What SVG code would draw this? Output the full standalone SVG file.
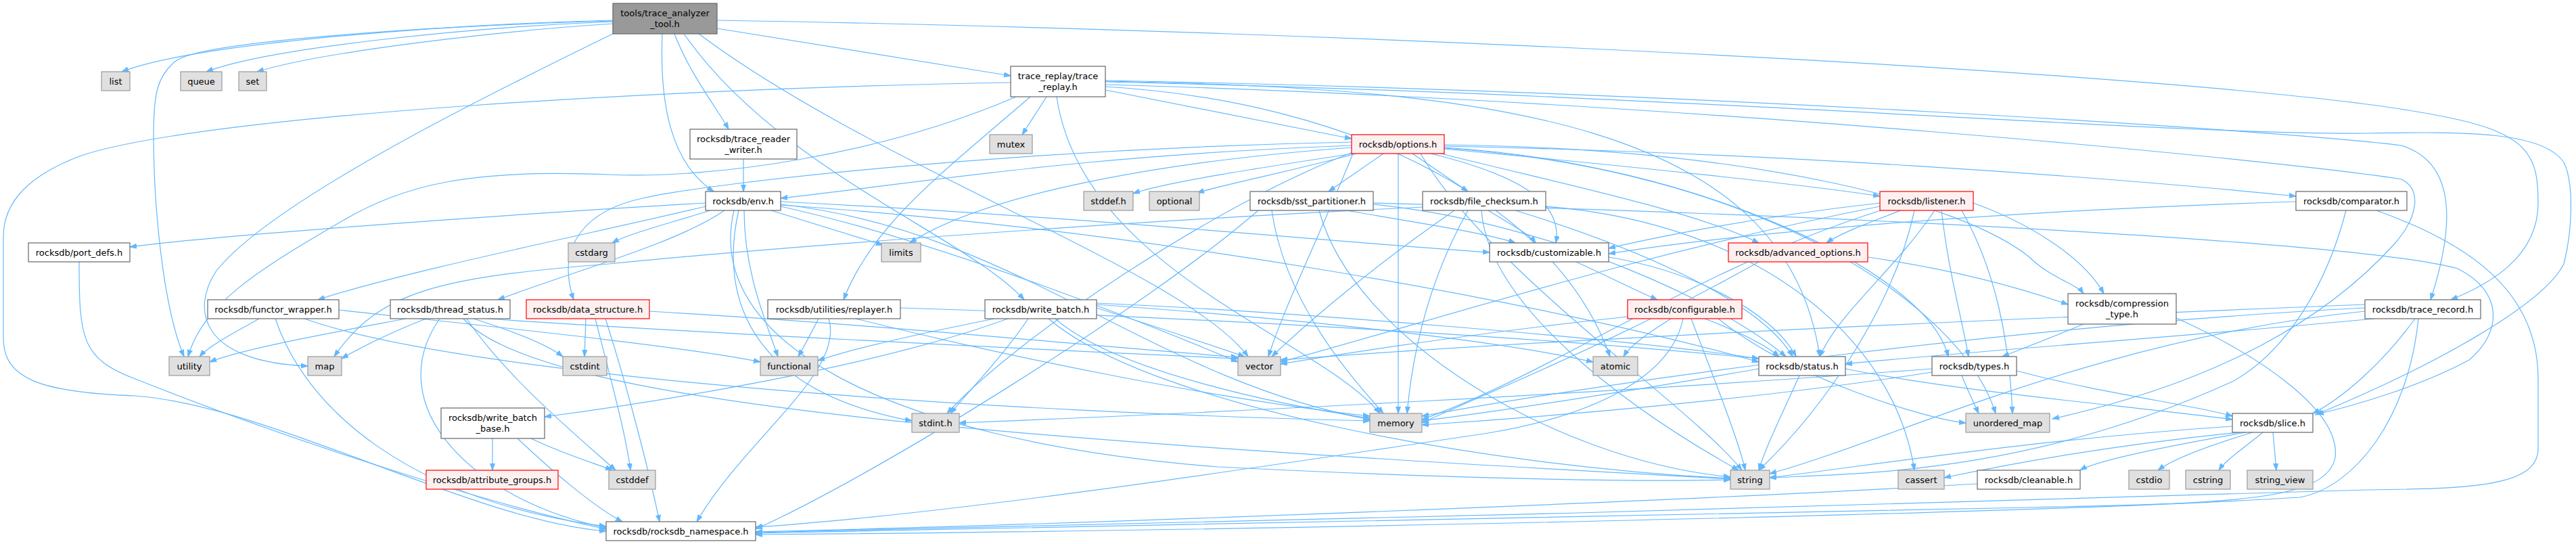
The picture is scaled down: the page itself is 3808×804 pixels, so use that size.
<svg xmlns="http://www.w3.org/2000/svg" width="3808" height="804" viewBox="0 0 3808 804">
<style>
.nd rect{stroke-width:1.2}
.w rect{fill:#ffffff;stroke:#666666}
.g rect{fill:#e0e0e0;stroke:#999999}
.r rect{fill:#fff0f0;stroke:#ff0000}
.root rect{fill:#999999;stroke:#666666}
text{font-family:"DejaVu Sans","Liberation Sans",sans-serif;font-size:13px;text-anchor:middle;fill:#000}
#edges path{fill:none;stroke:#63b8ff;stroke-width:1.2;marker-end:url(#a)}
</style>
<defs>
<marker id="a" markerUnits="userSpaceOnUse" markerWidth="12" markerHeight="10" refX="10" refY="4" orient="auto"><path d="M0,0.5 L10,4 L0,7.5 z" fill="#63b8ff" stroke="#63b8ff" stroke-width="1"/></marker>
</defs>
<rect x="0" y="0" width="3808" height="804" fill="#ffffff"/>
<g id="edges">
<path d="M906,30 C700,35 300,60 180,106"/>
<path d="M906,32 C700,40 400,70 305,106"/>
<path d="M906,35 C750,45 480,75 380,106"/>
<path d="M906,31 C650,38 300,60 260,90 C232,112 227,140 227,200 C227,300 240,450 272,527"/>
<path d="M910,48 C700,150 400,300 320,400 C280,460 300,535 455,541"/>
<path d="M979,50 C975,150 990,240 1055,283"/>
<path d="M997,50 C1020,110 1060,160 1077,191"/>
<path d="M1011,50 C1150,250 1430,350 1514,443"/>
<path d="M1033,50 C1300,250 1750,400 1845,527"/>
<path d="M1060,42 L1494,112"/>
<path d="M1060,30 C2000,45 3300,110 3600,170 C3740,195 3752,230 3752,300 C3752,380 3680,420 3623,443"/>
<path d="M1494,122 C1000,130 300,170 120,230 C40,260 5,300 5,350 L5,500 C5,560 60,580 200,585 C400,600 700,770 896,785"/>
<path d="M1502,143 C1300,230 1050,265 900,258 C700,250 600,270 500,330 C380,400 300,450 278,527"/>
<path d="M1547,143 L1511,199"/>
<path d="M1634,133 C1800,165 1900,185 1998,205"/>
<path d="M1634,120 C2200,130 2640,180 2690,527"/>
<path d="M1634,119 C2500,135 3400,195 3550,215 C3630,240 3630,330 3593,443"/>
<path d="M1634,121 C2500,140 3200,200 3500,197 C3650,194 3760,195 3790,240 C3805,270 3803,340 3790,390 C3760,450 3600,540 3423,613"/>
<path d="M1523,143 C1400,250 1290,330 1247,443"/>
<path d="M1562,143 C1600,400 1950,500 2040,611"/>
<path d="M1634,125 C2500,150 3400,240 3550,265 C3580,280 3575,320 3540,360 C3450,460 3300,560 3034,619"/>
<path d="M1634,128 C2000,150 2300,300 2380,527"/>
<path d="M1099,235 L1099,283"/>
<path d="M1043,300 C700,320 300,350 192,365"/>
<path d="M1043,305 C900,340 600,400 470,443"/>
<path d="M1050,311 C990,330 930,345 905,359"/>
<path d="M1071,311 C1000,360 850,400 736,443"/>
<path d="M1140,311 L1305,362"/>
<path d="M1100,311 C1100,400 1130,470 1150,527"/>
<path d="M1092,311 C1060,450 1120,580 1348,622"/>
<path d="M1154,302 C1500,340 1700,560 2025,620"/>
<path d="M1085,311 C1040,500 1300,650 1800,690 C2200,710 2450,712 2558,709"/>
<path d="M1154,305 C1400,360 1700,480 1830,535"/>
<path d="M1154,298 C1600,320 2000,360 2202,373"/>
<path d="M1154,303 C1700,340 2300,450 2600,535"/>
<path d="M1998,215 C1600,230 1400,265 1154,293"/>
<path d="M1998,210 C1500,220 1050,270 950,293 C870,310 820,360 848,443"/>
<path d="M1998,218 C1700,240 1450,290 1345,359"/>
<path d="M2000,227 C1850,250 1720,270 1675,286"/>
<path d="M2005,227 C1900,255 1800,275 1770,285"/>
<path d="M2045,227 L1964,283"/>
<path d="M2088,227 L2170,283"/>
<path d="M2067,227 L2067,611"/>
<path d="M2115,227 C2250,260 2310,300 2300,359"/>
<path d="M2130,227 C2300,270 2500,310 2600,359"/>
<path d="M2135,220 C2400,245 2650,270 2779,290"/>
<path d="M2135,216 C2600,225 3100,260 3394,290"/>
<path d="M2135,214 C2600,220 2900,300 3000,380 C3030,410 3070,420 3080,434"/>
<path d="M2135,218 C2500,240 2850,400 2880,527"/>
<path d="M2135,219 C2600,250 2900,450 2950,611"/>
<path d="M2000,227 C1950,350 1900,450 1875,527"/>
<path d="M2100,227 C2200,400 2500,600 2575,695"/>
<path d="M2000,225 C1800,300 1500,500 1400,611"/>
<path d="M1990,311 C2100,330 2200,345 2240,359"/>
<path d="M1880,311 C1900,450 2000,560 2045,611"/>
<path d="M1950,311 C2000,500 2300,680 2558,705"/>
<path d="M2030,300 C2800,320 3500,360 3633,397 C3700,430 3700,490 3650,532 C3580,570 3480,600 3425,612"/>
<path d="M2030,302 C2300,330 2550,450 2640,527"/>
<path d="M1860,311 C1700,450 1300,700 1117,782"/>
<path d="M2103,306 C1600,330 1100,370 900,390 C650,410 560,430 494,527"/>
<path d="M2200,311 C2230,330 2260,345 2270,359"/>
<path d="M2170,311 C2120,400 2090,500 2080,611"/>
<path d="M2190,311 C2200,450 2400,600 2570,695"/>
<path d="M2150,311 C2050,380 1950,460 1880,527"/>
<path d="M2240,311 C2400,360 2600,440 2650,527"/>
<path d="M2285,305 C2600,330 2800,500 2830,695"/>
<path d="M2779,300 C2600,320 2450,350 2378,367"/>
<path d="M2810,311 C2760,330 2720,345 2700,359"/>
<path d="M2780,311 C2500,400 2300,550 2102,620"/>
<path d="M2830,311 C2800,450 2700,600 2600,695"/>
<path d="M2900,311 C2950,400 2970,500 2975,611"/>
<path d="M2779,305 C2400,380 2100,480 1893,535"/>
<path d="M2917,300 C3000,330 3080,380 3110,434"/>
<path d="M2860,311 C2800,400 2720,460 2690,527"/>
<path d="M2870,311 C2880,400 2900,470 2910,527"/>
<path d="M3394,298 C3000,310 2600,340 2378,375"/>
<path d="M3468,311 C3440,420 3380,520 3300,564 C3000,700 2750,700 2616,706"/>
<path d="M3513,311 C3650,360 3752,430 3752,560 L3752,663 C3752,720 3650,722 3500,724 C3000,740 1600,780 1117,787"/>
<path d="M2330,387 C2380,410 2420,430 2450,443"/>
<path d="M2378,380 C2500,400 2620,460 2655,527"/>
<path d="M2761,380 C2900,400 3000,430 3057,450"/>
<path d="M2600,387 C2400,500 2200,580 2102,625"/>
<path d="M2470,471 C2440,490 2410,510 2400,527"/>
<path d="M2406,468 C2200,490 2000,520 1893,538"/>
<path d="M2500,471 C2530,550 2570,650 2580,695"/>
<path d="M2520,471 C2570,490 2610,510 2630,527"/>
<path d="M2540,471 C2650,560 2850,620 2906,625"/>
<path d="M2488,471 C2470,560 2350,615 2200,640 C1800,700 1400,760 1117,779"/>
<path d="M2600,545 C2400,580 2200,610 2102,622"/>
<path d="M2660,555 C2640,600 2610,660 2600,695"/>
<path d="M2728,545 C2900,580 3150,600 3300,620"/>
<path d="M2900,555 C2910,580 2920,600 2925,611"/>
<path d="M2981,548 C3100,580 3250,600 3300,615"/>
<path d="M2856,545 C2400,580 1800,610 1418,625"/>
<path d="M2856,550 C2600,590 2300,615 2102,628"/>
<path d="M3080,479 C3030,500 2990,515 2960,527"/>
<path d="M3217,470 C3350,530 3460,610 3452,676 C3440,740 3300,744 3000,750 C2000,770 1400,785 1117,788"/>
<path d="M3496,455 C3000,480 2400,560 2102,615"/>
<path d="M3496,460 C3100,500 2800,650 2616,700"/>
<path d="M3496,450 C3000,470 2300,500 1893,532"/>
<path d="M3510,471 C3200,500 2900,520 2728,538"/>
<path d="M3570,471 C3520,540 3460,590 3419,611"/>
<path d="M3575,471 C3560,620 3480,720 3400,735 C3000,760 1800,785 1117,790"/>
<path d="M3310,639 C3100,660 2950,690 2874,706"/>
<path d="M3320,639 C3200,660 3100,680 3075,695"/>
<path d="M3330,639 C3260,660 3210,680 3190,695"/>
<path d="M3345,639 C3320,660 3290,680 3280,695"/>
<path d="M3360,639 L3365,695"/>
<path d="M3300,630 C3000,650 2750,690 2616,706"/>
<path d="M2923,715 C2500,740 1600,775 1117,786"/>
<path d="M1470,471 C1350,495 1260,515 1209,533"/>
<path d="M1490,471 C1300,540 1000,590 805,616"/>
<path d="M1520,471 C1480,530 1430,580 1405,611"/>
<path d="M1621,450 C1900,470 2200,500 2355,535"/>
<path d="M1560,471 C1650,550 1900,600 2025,618"/>
<path d="M1550,471 C1700,600 2200,690 2558,707"/>
<path d="M1621,455 C1700,480 1790,510 1840,527"/>
<path d="M1621,448 C1900,460 2400,500 2600,530"/>
<path d="M1210,471 C1200,490 1190,510 1180,527"/>
<path d="M1225,471 C1250,550 1100,650 1030,771"/>
<path d="M1265,471 C1500,530 1800,590 2025,615"/>
<path d="M1331,455 C1800,470 2300,500 2600,530"/>
<path d="M383,471 C350,490 310,510 295,527"/>
<path d="M407,471 C450,600 600,740 896,778"/>
<path d="M450,471 C700,560 1500,610 2025,622"/>
<path d="M501,458 C700,480 1000,510 1124,535"/>
<path d="M600,471 C500,490 360,515 310,535"/>
<path d="M630,471 C580,490 530,515 505,530"/>
<path d="M650,471 C560,600 700,740 896,780"/>
<path d="M690,471 C750,560 860,650 910,695"/>
<path d="M700,471 C760,490 810,510 832,527"/>
<path d="M685,471 C800,600 1500,650 2558,708"/>
<path d="M720,471 C1000,490 1500,515 1830,530"/>
<path d="M866,471 L864,527"/>
<path d="M880,471 C900,550 925,640 932,695"/>
<path d="M895,471 C930,580 960,700 975,771"/>
<path d="M960,460 C1300,480 1600,510 1830,528"/>
<path d="M728,648 L728,695"/>
<path d="M785,648 C830,670 880,685 905,695"/>
<path d="M765,648 C820,700 880,750 920,771"/>
<path d="M117,387 C117,500 120,530 200,560 C400,640 700,740 896,782"/>
</g>
<g id="n_tools" class="nd root"><rect x="906" y="5" width="154" height="45"/><text x="983" y="24">tools/trace_analyzer</text><text x="983" y="40">_tool.h</text></g>
<g id="n_list" class="nd g"><rect x="150" y="106" width="42" height="28"/><text x="171" y="124.5">list</text></g>
<g id="n_queue" class="nd g"><rect x="267" y="106" width="61" height="28"/><text x="297.5" y="124.5">queue</text></g>
<g id="n_set" class="nd g"><rect x="353" y="106" width="41" height="28"/><text x="373.5" y="124.5">set</text></g>
<g id="n_trace_replay" class="nd w"><rect x="1494" y="98" width="140" height="45"/><text x="1564" y="117">trace_replay/trace</text><text x="1564" y="133">_replay.h</text></g>
<g id="n_trace_reader_writer" class="nd w"><rect x="1020" y="191" width="158" height="44"/><text x="1099" y="209.5">rocksdb/trace_reader</text><text x="1099" y="225.5">_writer.h</text></g>
<g id="n_mutex" class="nd g"><rect x="1463" y="199" width="63" height="28"/><text x="1494.5" y="217.5">mutex</text></g>
<g id="n_options" class="nd r"><rect x="1998" y="199" width="137" height="28"/><text x="2066.5" y="217.5">rocksdb/options.h</text></g>
<g id="n_env" class="nd w"><rect x="1043" y="283" width="111" height="28"/><text x="1098.5" y="301.5">rocksdb/env.h</text></g>
<g id="n_stddef_h" class="nd g"><rect x="1602" y="283" width="73" height="28"/><text x="1638.5" y="301.5">stddef.h</text></g>
<g id="n_optional" class="nd g"><rect x="1699" y="283" width="74" height="28"/><text x="1736" y="301.5">optional</text></g>
<g id="n_sst_partitioner" class="nd w"><rect x="1848" y="283" width="182" height="28"/><text x="1939" y="301.5">rocksdb/sst_partitioner.h</text></g>
<g id="n_file_checksum" class="nd w"><rect x="2103" y="283" width="182" height="28"/><text x="2194" y="301.5">rocksdb/file_checksum.h</text></g>
<g id="n_listener" class="nd r"><rect x="2779" y="283" width="138" height="28"/><text x="2848" y="301.5">rocksdb/listener.h</text></g>
<g id="n_comparator" class="nd w"><rect x="3394" y="283" width="164" height="28"/><text x="3476" y="301.5">rocksdb/comparator.h</text></g>
<g id="n_port_defs" class="nd w"><rect x="42" y="359" width="150" height="28"/><text x="117" y="377.5">rocksdb/port_defs.h</text></g>
<g id="n_cstdarg" class="nd g"><rect x="840" y="359" width="69" height="28"/><text x="874.5" y="377.5">cstdarg</text></g>
<g id="n_limits" class="nd g"><rect x="1303" y="359" width="58" height="28"/><text x="1332" y="377.5">limits</text></g>
<g id="n_customizable" class="nd w"><rect x="2202" y="359" width="176" height="28"/><text x="2290" y="377.5">rocksdb/customizable.h</text></g>
<g id="n_advanced_options" class="nd r"><rect x="2555" y="359" width="206" height="28"/><text x="2658" y="377.5">rocksdb/advanced_options.h</text></g>
<g id="n_functor_wrapper" class="nd w"><rect x="307" y="443" width="194" height="28"/><text x="404" y="461.5">rocksdb/functor_wrapper.h</text></g>
<g id="n_thread_status" class="nd w"><rect x="577" y="443" width="177" height="28"/><text x="665.5" y="461.5">rocksdb/thread_status.h</text></g>
<g id="n_data_structure" class="nd r"><rect x="778" y="443" width="182" height="28"/><text x="869" y="461.5">rocksdb/data_structure.h</text></g>
<g id="n_replayer" class="nd w"><rect x="1135" y="443" width="196" height="28"/><text x="1233" y="461.5">rocksdb/utilities/replayer.h</text></g>
<g id="n_write_batch" class="nd w"><rect x="1456" y="443" width="165" height="28"/><text x="1538.5" y="461.5">rocksdb/write_batch.h</text></g>
<g id="n_configurable" class="nd r"><rect x="2406" y="443" width="169" height="28"/><text x="2490.5" y="461.5">rocksdb/configurable.h</text></g>
<g id="n_compression_type" class="nd w"><rect x="3057" y="434" width="160" height="45"/><text x="3137" y="453">rocksdb/compression</text><text x="3137" y="469">_type.h</text></g>
<g id="n_trace_record" class="nd w"><rect x="3496" y="443" width="171" height="28"/><text x="3581.5" y="461.5">rocksdb/trace_record.h</text></g>
<g id="n_utility" class="nd g"><rect x="250" y="527" width="60" height="28"/><text x="280" y="545.5">utility</text></g>
<g id="n_map" class="nd g"><rect x="455" y="527" width="50" height="28"/><text x="480" y="545.5">map</text></g>
<g id="n_cstdint" class="nd g"><rect x="832" y="527" width="65" height="28"/><text x="864.5" y="545.5">cstdint</text></g>
<g id="n_functional" class="nd g"><rect x="1124" y="527" width="85" height="28"/><text x="1166.5" y="545.5">functional</text></g>
<g id="n_vector" class="nd g"><rect x="1830" y="527" width="63" height="28"/><text x="1861.5" y="545.5">vector</text></g>
<g id="n_atomic" class="nd g"><rect x="2355" y="527" width="66" height="28"/><text x="2388" y="545.5">atomic</text></g>
<g id="n_status" class="nd w"><rect x="2600" y="527" width="128" height="28"/><text x="2664" y="545.5">rocksdb/status.h</text></g>
<g id="n_types" class="nd w"><rect x="2856" y="527" width="125" height="28"/><text x="2918.5" y="545.5">rocksdb/types.h</text></g>
<g id="n_stdint_h" class="nd g"><rect x="1348" y="611" width="70" height="28"/><text x="1383" y="629.5">stdint.h</text></g>
<g id="n_memory" class="nd g"><rect x="2025" y="611" width="77" height="28"/><text x="2063.5" y="629.5">memory</text></g>
<g id="n_unordered_map" class="nd g"><rect x="2906" y="611" width="124" height="28"/><text x="2968" y="629.5">unordered_map</text></g>
<g id="n_slice" class="nd w"><rect x="3300" y="611" width="119" height="28"/><text x="3359.5" y="629.5">rocksdb/slice.h</text></g>
<g id="n_write_batch_base" class="nd w"><rect x="652" y="603" width="153" height="45"/><text x="728.5" y="622">rocksdb/write_batch</text><text x="728.5" y="638">_base.h</text></g>
<g id="n_attribute_groups" class="nd r"><rect x="630" y="695" width="195" height="28"/><text x="727.5" y="713.5">rocksdb/attribute_groups.h</text></g>
<g id="n_cstddef" class="nd g"><rect x="900" y="695" width="69" height="28"/><text x="934.5" y="713.5">cstddef</text></g>
<g id="n_string" class="nd g"><rect x="2558" y="695" width="58" height="28"/><text x="2587" y="713.5">string</text></g>
<g id="n_cassert" class="nd g"><rect x="2806" y="695" width="68" height="28"/><text x="2840" y="713.5">cassert</text></g>
<g id="n_cleanable" class="nd w"><rect x="2923" y="695" width="152" height="28"/><text x="2999" y="713.5">rocksdb/cleanable.h</text></g>
<g id="n_cstdio" class="nd g"><rect x="3147" y="695" width="60" height="28"/><text x="3177" y="713.5">cstdio</text></g>
<g id="n_cstring" class="nd g"><rect x="3231" y="695" width="66" height="28"/><text x="3264" y="713.5">cstring</text></g>
<g id="n_string_view" class="nd g"><rect x="3322" y="695" width="97" height="28"/><text x="3370.5" y="713.5">string_view</text></g>
<g id="n_rocksdb_namespace" class="nd w"><rect x="896" y="771" width="221" height="28"/><text x="1006.5" y="789.5">rocksdb/rocksdb_namespace.h</text></g>
</svg>
